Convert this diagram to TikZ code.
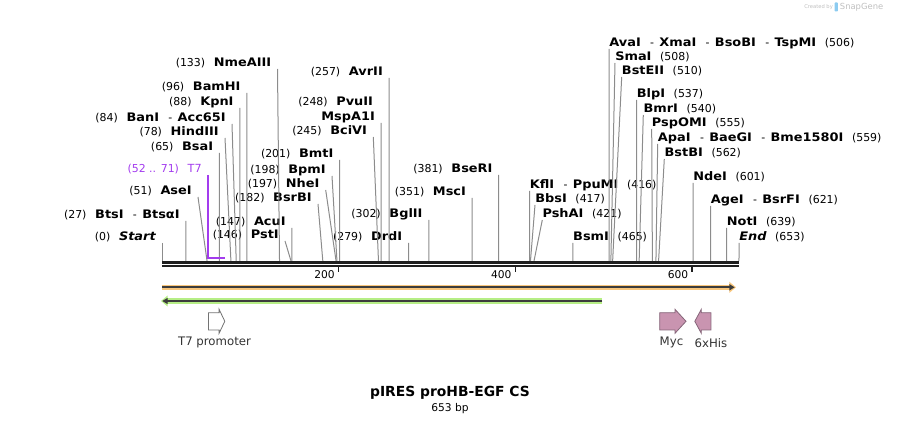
\documentclass[tikz,border=0pt]{standalone}
\usepackage{fontspec}
\setmainfont{DejaVu Sans}[ItalicFont={DejaVu Sans Oblique},BoldItalicFont={DejaVu Sans Bold Oblique}]
\newfontfamily\enzfont{DejaVu Sans}[FakeStretch=1.1,ItalicFont={DejaVu Sans Oblique},BoldItalicFont={DejaVu Sans Bold Oblique}]
\usetikzlibrary{arrows.meta}
\definecolor{cutline}{HTML}{8C8C8C}
\definecolor{bbone}{HTML}{1E1E1E}
\definecolor{tsev}{HTML}{A33CEE}
\definecolor{orband}{HTML}{F8C67C}
\definecolor{grband}{HTML}{B6EE86}
\definecolor{fline}{HTML}{3C3C3C}
\definecolor{tagpink}{HTML}{C994B0}
\definecolor{tagedge}{HTML}{86667A}
\definecolor{snapblue}{HTML}{8CCBF0}
\newcommand{\enzname}[1]{{\fontsize{8.8}{10}\selectfont\enzfont\bfseries #1}}
\newcommand{\enznum}[1]{{\fontsize{8.2}{10}\selectfont(#1)}}
\newcommand{\enzgap}{\hspace{6.5pt}}
\newcommand{\enzsep}{\hspace{7pt}{\fontsize{8.2}{10}\selectfont -}\hspace{4pt}}

\begin{document}
\begin{tikzpicture}[x=0.75pt,y=-0.75pt]
\tikzstyle{leftlab}=[anchor=south east,inner xsep=4.5pt,inner ysep=1.5pt,text depth=0pt]
\tikzstyle{rightlab}=[anchor=south west,inner xsep=0pt,inner ysep=1.5pt,text depth=0pt]
\tikzstyle{cut}=[cutline,line width=0.75pt]
\tikzstyle{ticklab}=[anchor=east,inner sep=0pt,font=\fontsize{8}{10}\selectfont]
\tikzstyle{featlab}=[inner sep=0pt,text=black!80,font=\fontsize{8.8}{10}\selectfont]
\tikzstyle{tagarrow}=[fill=tagpink,draw=tagedge,line width=0.6pt,line join=miter]
\useasboundingbox (0,0) rectangle (901,424);
\par
% sites on the backbone
\foreach \p in {0,27,51,52,65,71,78,84,88,96,133,146,147,182,197,198,201,245,248,257,279,302,351,381,416,417,421,465,506,508,510,537,540,555,559,562,601,621,639,653}
	\coordinate (s\p) at ({162+0.8836*\p},261);
\par
% left labels
	\node[leftlab] (Start) at (162,243) {\enznum{0}\enzgap\enzname{\itshape Start}};
	\node[leftlab] (BtsI) at (185.9,221) {\enznum{27}\enzgap\enzname{BtsI}\enzsep\enzname{BtsαI}};
	\node[leftlab] (AseI) at (198,197) {\enznum{51}\enzgap\enzname{AseI}};
	\node[leftlab,text=tsev] (T7) at (207.9,175) {\enznum{52 .. 71}\enzgap{\fontsize{8.4}{10}\selectfont T7}};
	\node[leftlab] (BsaI) at (219.4,153) {\enznum{65}\enzgap\enzname{BsaI}};
	\node[leftlab] (HindIII) at (225,138) {\enznum{78}\enzgap\enzname{HindIII}};
	\node[leftlab] (BanI) at (232,124) {\enznum{84}\enzgap\enzname{BanI}\enzsep\enzname{Acc65I}};
	\node[leftlab] (KpnI) at (239.8,108) {\enznum{88}\enzgap\enzname{KpnI}};
	\node[leftlab] (BamHI) at (246.8,93) {\enznum{96}\enzgap\enzname{BamHI}};
	\node[leftlab] (NmeAIII) at (277.5,69) {\enznum{133}\enzgap\enzname{NmeAIII}};
	\node[leftlab] (PstI) at (285,241) {\enznum{146}\enzgap\enzname{PstI}};
	\node[leftlab] (AcuI) at (291.9,228) {\enznum{147}\enzgap\enzname{AcuI}};
	\node[leftlab] (BsrBI) at (318,204) {\enznum{182}\enzgap\enzname{BsrBI}};
	\node[leftlab] (NheI) at (325.7,190) {\enznum{197}\enzgap\enzname{NheI}};
	\node[leftlab] (BpmI) at (332,176) {\enznum{198}\enzgap\enzname{BpmI}};
	\node[leftlab] (BmtI) at (339.6,160) {\enznum{201}\enzgap\enzname{BmtI}};
	\node[leftlab] (BciVI) at (373.3,137) {\enznum{245}\enzgap\enzname{BciVI}};
	\node[leftlab] (MspA1I) at (381.1,123) {\enzname{MspA1I}};
	\node[leftlab] (PvuII) at (379.3,108) {\enznum{248}\enzgap\enzname{PvuII}};
	\node[leftlab] (AvrII) at (389.1,78) {\enznum{257}\enzgap\enzname{AvrII}};
	\node[leftlab] (DrdI) at (408.5,243) {\enznum{279}\enzgap\enzname{DrdI}};
	\node[leftlab] (BglII) at (428.8,220) {\enznum{302}\enzgap\enzname{BglII}};
	\node[leftlab] (MscI) at (472.2,198) {\enznum{351}\enzgap\enzname{MscI}};
	\node[leftlab] (BseRI) at (498.7,175) {\enznum{381}\enzgap\enzname{BseRI}};
\par
% right labels
	\node[rightlab] (KflI) at (529.6,191) {\enzname{KflI}\enzsep\enzname{PpuMI}\enzgap\enznum{416}};
	\node[rightlab] (BbsI) at (535,205) {\enzname{BbsI}\enzgap\enznum{417}};
	\node[rightlab] (PshAI) at (542.3,220) {\enzname{PshAI}\enzgap\enznum{421}};
	\node[rightlab] (BsmI) at (572.9,243) {\enzname{BsmI}\enzgap\enznum{465}};
	\node[rightlab] (AvaI) at (609.1,49) {\enzname{AvaI}\enzsep\enzname{XmaI}\enzsep\enzname{BsoBI}\enzsep\enzname{TspMI}\enzgap\enznum{506}};
	\node[rightlab] (SmaI) at (615,63) {\enzname{SmaI}\enzgap\enznum{508}};
	\node[rightlab] (BstEII) at (621.7,77) {\enzname{BstEII}\enzgap\enznum{510}};
	\node[rightlab] (BlpI) at (636.5,100) {\enzname{BlpI}\enzgap\enznum{537}};
	\node[rightlab] (BmrI) at (643.3,115) {\enzname{BmrI}\enzgap\enznum{540}};
	\node[rightlab] (PspOMI) at (651.7,129) {\enzname{PspOMI}\enzgap\enznum{555}};
	\node[rightlab] (ApaI) at (657.7,144) {\enzname{ApaI}\enzsep\enzname{BaeGI}\enzsep\enzname{Bme1580I}\enzgap\enznum{559}};
	\node[rightlab] (BstBI) at (664.3,159) {\enzname{BstBI}\enzgap\enznum{562}};
	\node[rightlab] (NdeI) at (693,183) {\enzname{NdeI}\enzgap\enznum{601}};
	\node[rightlab] (AgeI) at (710.7,206) {\enzname{AgeI}\enzsep\enzname{BsrFI}\enzgap\enznum{621}};
	\node[rightlab] (NotI) at (726.6,228) {\enzname{NotI}\enzgap\enznum{639}};
	\node[rightlab] (End) at (739,243) {\enzname{\itshape End}\enzgap\enznum{653}};
\par
% cut lines
	\draw[cut] (Start.south east) -- (s0);
	\draw[cut] (BtsI.south east) -- (s27);
	\draw[cut] (AseI.south east) -- (s51);
	\draw[cut] (BsaI.south east) -- (s65);
	\draw[cut] (HindIII.south east) -- (s78);
	\draw[cut] (BanI.south east) -- (s84);
	\draw[cut] (KpnI.south east) -- (s88);
	\draw[cut] (BamHI.south east) -- (s96);
	\draw[cut] (NmeAIII.south east) -- (s133);
	\draw[cut] (PstI.south east) -- (s146);
	\draw[cut] (AcuI.south east) -- (s147);
	\draw[cut] (BsrBI.south east) -- (s182);
	\draw[cut] (NheI.south east) -- (s197);
	\draw[cut] (BpmI.south east) -- (s198);
	\draw[cut] (BmtI.south east) -- (s201);
	\draw[cut] (BciVI.south east) -- (s245);
	\draw[cut] (MspA1I.south east) -- (s248);
	\draw[cut] (AvrII.south east) -- (s257);
	\draw[cut] (DrdI.south east) -- (s279);
	\draw[cut] (BglII.south east) -- (s302);
	\draw[cut] (MscI.south east) -- (s351);
	\draw[cut] (BseRI.south east) -- (s381);
	\draw[cut] (KflI.south west) -- (s416);
	\draw[cut] (BbsI.south west) -- (s417);
	\draw[cut] (PshAI.south west) -- (s421);
	\draw[cut] (BsmI.south west) -- (s465);
	\draw[cut] (AvaI.south west) -- (s506);
	\draw[cut] (SmaI.south west) -- (s508);
	\draw[cut] (BstEII.south west) -- (s510);
	\draw[cut] (BlpI.south west) -- (s537);
	\draw[cut] (BmrI.south west) -- (s540);
	\draw[cut] (PspOMI.south west) -- (s555);
	\draw[cut] (ApaI.south west) -- (s559);
	\draw[cut] (BstBI.south west) -- (s562);
	\draw[cut] (NdeI.south west) -- (s601);
	\draw[cut] (AgeI.south west) -- (s621);
	\draw[cut] (NotI.south west) -- (s639);
	\draw[cut] (End.south west) -- (s653);
\par
% T7 site
	\coordinate (t7a) at (207.9,258.5);
	\coordinate (t7b) at (224.7,258.5);
	\draw[tsev,line width=1.5pt,line join=miter] (T7.south east) -- (t7a) -- (t7b);
\par
% backbone and ticks
	\coordinate (bbA) at (162,262.3);
	\coordinate (bbB) at (739,262.3);
	\coordinate (bbC) at (162,266.3);
	\coordinate (bbD) at (739,266.3);
	\draw[bbone,line width=2.25pt] (bbA) -- (bbB);
	\draw[bbone,line width=1.7pt] (bbC) -- (bbD);
	\coordinate (k200) at (338.7,266.5);
	\coordinate (k400) at (515.4,266.5);
	\coordinate (k600) at (692.1,266.5);
	\draw[bbone,line width=1.1pt] (k200) -- ++(0,6);
	\draw[bbone,line width=1.1pt] (k400) -- ++(0,6);
	\draw[bbone,line width=1.1pt] (k600) -- ++(0,6);
	\node[ticklab] (n200) at (335,274.5) {200};
	\node[ticklab] (n400) at (511.7,274.5) {400};
	\node[ticklab] (n600) at (688.4,274.5) {600};
\par
% features
	\coordinate (orA) at (162,287.3);
	\coordinate (orB) at (736,287.3);
	\draw[orband,line width=4pt,-{Triangle[length=5pt,width=8pt]}] (orA) -- (orB);
	\draw[fline,line width=1.4pt,-{Triangle[length=4pt,width=4.5pt]}] (orA) -- ([xshift=-1pt]orB);
	\coordinate (grA) at (602.4,301);
	\coordinate (grB) at (161,301);
	\draw[grband,line width=4pt,-{Triangle[length=5pt,width=8pt]}] (grA) -- (grB);
	\draw[fline,line width=1.4pt,-{Triangle[length=4pt,width=4.5pt]}] (grA) -- ([xshift=1pt]grB);
	\draw[draw=black!55,fill=white,line width=0.6pt,line join=miter] (208.4,312.7) -- (219.1,312.7) -- (219.1,309.3) -- (224.8,321.3) -- (219.1,333.3) -- (219.1,330) -- (208.4,330) -- cycle;
	\draw[tagarrow] (659.7,312.7) -- (675,312.7) -- (675,309.3) -- (686,321.3) -- (675,333.3) -- (675,330) -- (659.7,330) -- cycle;
	\draw[tagarrow] (710.9,312.7) -- (701.3,312.7) -- (701.3,309.3) -- (694.8,321.3) -- (701.3,333.3) -- (701.3,330) -- (710.9,330) -- cycle;
	\node[featlab] (T7prom) at (214.5,342.7) {T7 promoter};
	\node[featlab] (Myc) at (671.5,342.7) {Myc};
	\node[featlab] (His) at (711,342.7) {6xHis};
\par
% title
	\node[inner sep=0pt] (title) at (450,393) {\fontsize{10.4}{12}\selectfont\bfseries pIRES proHB-EGF CS};
	\node[inner sep=0pt] (size) at (450,408.5) {\fontsize{8}{10}\selectfont 653 bp};
	\node[anchor=west,inner sep=0pt,text=black!25] (credit) at (804,7) {\fontsize{3.9}{5}\selectfont Created by};
	\node[anchor=east,inner sep=0pt,text=black!25] (snapgene) at (883.5,7) {\fontsize{6.3}{8}\selectfont SnapGene};
	\fill[snapblue,rounded corners=0.6pt] (834.5,2.5) rectangle (837.8,11.5);
\end{tikzpicture}
\end{document}
